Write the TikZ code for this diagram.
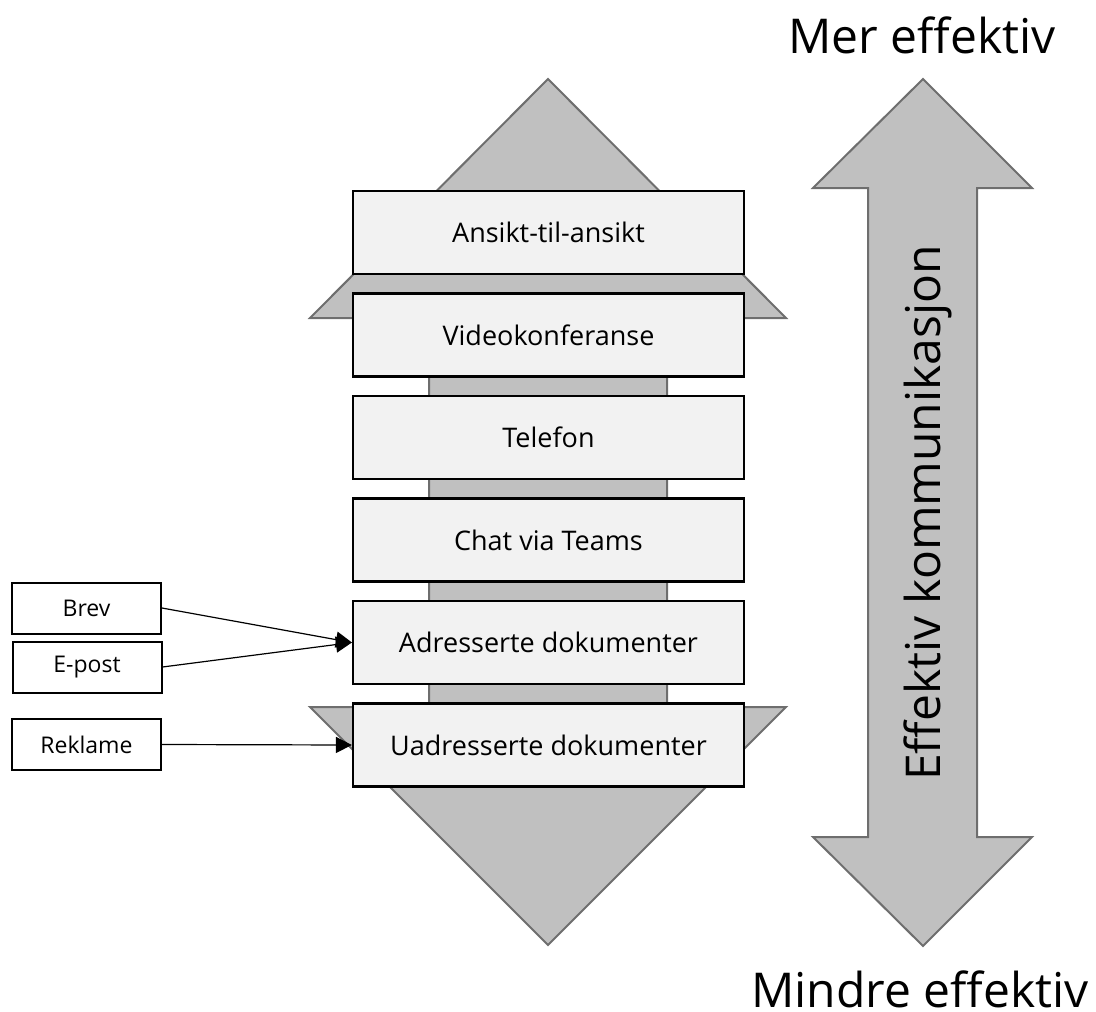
\documentclass[tikz,border=0pt]{standalone}
\usepackage{fontspec}
\setmainfont{Open Sans}
\usetikzlibrary{arrows.meta}
\definecolor{arrowfill}{RGB}{192,192,192}
\definecolor{arrowline}{RGB}{110,110,110}
\definecolor{boxfill}{RGB}{242,242,242}
\tikzset{
  bigarrow/.style={fill=arrowfill, draw=arrowline, line width=2pt, line join=miter},
  levelbox/.style={draw=black, fill=boxfill, line width=2.2pt, minimum width=391pt, minimum height=83pt, inner sep=0pt, font=\fontsize{27}{32}\selectfont},
  srcbox/.style={draw=black, fill=white, line width=2pt, minimum width=149pt, minimum height=51pt, inner sep=0pt, font=\fontsize{23}{28}\selectfont},
  conn/.style={draw=black, line width=1.2pt, -{Triangle[length=16pt,width=16pt]}},
  bigtext/.style={font=\fontsize{48}{58}\selectfont, inner sep=0pt}
}
\begin{document}
\begin{tikzpicture}[x=1pt,y=-1pt]
\useasboundingbox (0,0) rectangle (1096,1012);
% left background double arrow
\draw[bigarrow] (548,79) -- (786,318) -- (667,318) -- (667,707) -- (786,707) -- (548,945) -- (310,707) -- (429,707) -- (429,318) -- (310,318) -- cycle;
% right double arrow
\draw[bigarrow] (923,79) -- (1032,188) -- (977,188) -- (977,837) -- (1032,837) -- (923,946) -- (813,837) -- (868,837) -- (868,188) -- (813,188) -- cycle;
% level boxes
\node[levelbox] (b1) at (548.5,232.5) {Ansikt-til-ansikt};
\node[levelbox] (b2) at (548.5,335) {Videokonferanse};
\node[levelbox] (b3) at (548.5,437.5) {Telefon};
\node[levelbox] (b4) at (548.5,540) {Chat via Teams};
\node[levelbox] (b5) at (548.5,642.5) {Adresserte dokumenter};
\node[levelbox] (b6) at (548.5,745) {Uadresserte dokumenter};
% source boxes
\node[srcbox] (brev) at (86.5,608) {Brev};
\node[srcbox] (epost) at (87,667) {E-post};
\node[srcbox] (reklame) at (86.5,744.5) {Reklame};
% connectors
\draw[conn] (brev.east) -- (b5.west);
\draw[conn] (epost.east) -- (b5.west);
\draw[conn] (reklame.east) -- (b6.west);
% big labels
\node[bigtext, anchor=base] (mer) at (922,53) {Mer effektiv};
\node[bigtext, anchor=base] (mindre) at (920,1007) {Mindre effektiv};
\node[bigtext, rotate=90, anchor=base] (eff) at (940,513) {Effektiv kommunikasjon};
\end{tikzpicture}
\end{document}
